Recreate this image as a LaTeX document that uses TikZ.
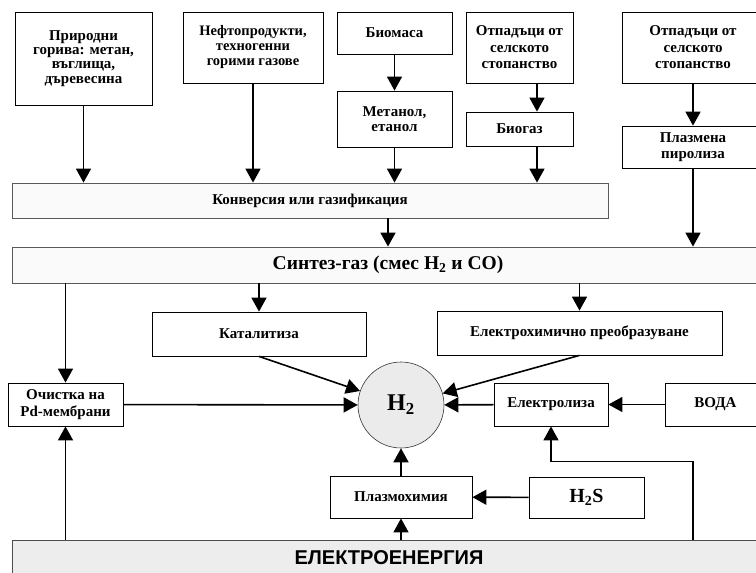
\documentclass[tikz,border=0pt]{standalone}
\usepackage{fontspec}
\setmainfont{Liberation Serif}
\setsansfont{Liberation Sans}
\usetikzlibrary{arrows.meta, positioning}

\begin{document}
\begin{tikzpicture}[x=1pt, y=-1pt,
        blk/.style={rectangle, draw=black, line width=0.8pt, fill=white, align=center,
                    font=\bfseries\fontsize{15}{16.5}\selectfont, inner sep=2pt},
        bar/.style={blk, draw=gray!70!black, fill=gray!4},
        strom/.style={blk, draw=gray!60!black, fill=gray!14, font=\sffamily\bfseries\fontsize{20}{22}\selectfont},
        vod/.style={circle, draw=gray!40!black, fill=gray!16, line width=0.6pt, minimum size=86pt,
                    inner sep=0pt, font=\bfseries\fontsize{24}{26}\selectfont},
        tok/.style={-{Triangle[length=14pt, width=15pt]}, line width=1.6pt}
    ]
    \useasboundingbox (0,0) rectangle (756,573);
    \clip (0,0) rectangle (756,573);
    % Sources
    \node[blk, minimum width=137pt, minimum height=93pt, font=\bfseries\fontsize{15}{14.3}\selectfont] (fuel) at (83.5,58.5) {Природни\\горива: метан,\\въглища,\\дъревесина};
    \node[blk, minimum width=140pt, minimum height=71pt, font=\bfseries\fontsize{14.5}{15}\selectfont] (oil) at (253,47.5) {Нефтопродукти,\\техногенни\\горими газове};
    \node[blk, minimum width=115pt, minimum height=42pt] (biomass) at (394.5,33) {Биомаса};
    \node[blk, minimum width=115pt, minimum height=56pt, font=\bfseries\fontsize{15}{15}\selectfont] (alcohol) at (394.5,119) {Метанол,\\етанол};
    \node[blk, minimum width=107pt, minimum height=71pt] (waste) at (519.5,47.5) {Отпадъци от\\селското\\стопанство};
    \node[blk, minimum width=107pt, minimum height=34pt] (biogas) at (519.5,129) {Биогаз};
    \node[blk, minimum width=142pt, minimum height=71pt] (wastep) at (693,47.5) {Отпадъци от\\селското\\стопанство};
    \node[blk, minimum width=142pt, minimum height=42pt] (pyro) at (693,147) {Плазмена\\пиролиза};
    % Conversion and syngas
    \node[bar, minimum width=596pt, minimum height=35pt] (conv) at (310,200.5) {Конверсия или газификация};
    \node[bar, minimum width=752pt, minimum height=36pt, font=\bfseries\fontsize{19.5}{21}\selectfont] (syngas) at (388,265) {Синтез-газ (смес H\textsubscript{2} и CO)};
    % Processes
    \node[blk, minimum width=214pt, minimum height=44pt] (catal) at (259,334) {Каталитиза};
    \node[blk, minimum width=285pt, minimum height=44pt] (echem) at (579.5,333) {Електрохимично преобразуване};
    \node[blk, minimum width=115pt, minimum height=43pt] (purify) at (65.5,404.5) {Очистка на\\Pd-мембрани};
    \node[vod] (h2) at (401,405) {H\textsubscript{2}};
    \node[blk, minimum width=114pt, minimum height=43pt] (elys) at (551,404.5) {Електролиза};
    \node[blk, minimum width=101pt, minimum height=43pt] (water) at (715.5,404.5) {ВОДА};
    \node[blk, minimum width=142pt, minimum height=42pt] (plasma) at (401,497) {Плазмохимия};
    \node[blk, minimum width=115pt, minimum height=41pt, font=\bfseries\fontsize{20}{22}\selectfont] (h2s) at (586.5,497.5) {H\textsubscript{2}S};
    \node[strom, minimum width=754pt, minimum height=36pt] (power) at (389,558) {ЕЛЕКТРОЕНЕРГИЯ};

    \coordinate (bgx) at ([xshift=17.5pt]biogas.south);
    \coordinate (cvx) at (388,0);
    \draw[tok] (fuel.south) -- (fuel.south |- conv.north);
    \draw[tok] (oil.south) -- (oil.south |- conv.north);
    \draw[tok] (biomass) -- (alcohol);
    \draw[tok] (alcohol) -- (conv.north -| alcohol.south);
    \draw[tok] (waste.south -| bgx) -- (biogas.north -| bgx);
    \draw[tok] (bgx) -- (conv.north -| bgx);
    \draw[tok] (wastep) -- (pyro);
    \draw[tok] (pyro.south) -- (pyro.south |- syngas.north);
    \draw[tok] (conv.south -| cvx) -- (syngas.north -| cvx);
    \draw[tok] (syngas.south -| purify.north) -- (purify.north);
    \draw[tok] (syngas.south -| catal.north) -- (catal.north);
    \draw[tok] (syngas.south -| echem.north) -- (echem.north);
    \draw[tok] (catal.south) -- (h2);
    \draw[tok] (echem.south) -- (h2);
    \draw[tok] (purify) -- (h2);
    \draw[tok] (elys) -- (h2);
    \draw[tok] (water) -- (elys);
    \draw[tok] (h2s) -- (plasma);
    \draw[tok] (plasma) -- (h2);
    \draw[tok] (power.north -| plasma.south) -- (plasma.south);
    \draw[tok] (power.north -| purify.south) -- (purify.south);
    \draw[tok] (power.north -| pyro.south) -- ++(0,-78) -| (elys.south);
\end{tikzpicture}
\end{document}
